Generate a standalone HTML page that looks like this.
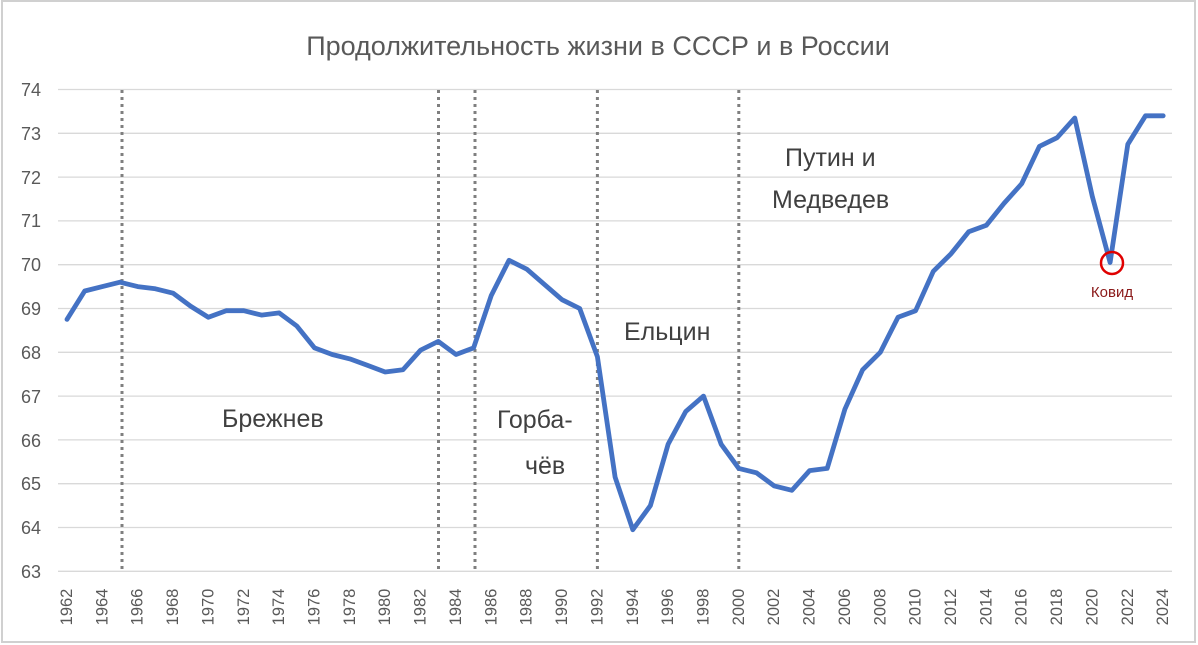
<!DOCTYPE html>
<html><head><meta charset="utf-8"><style>
html,body{margin:0;padding:0;background:#fff;}
svg{display:block;font-family:"Liberation Sans","DejaVu Sans",sans-serif;}
</style></head><body>
<svg id="s" width="1198" height="645" viewBox="0 0 1198 645">
<rect x="2" y="1" width="1193" height="641" fill="#fff" stroke="#d0d0d0" stroke-width="2"/>
<text x="598" y="55" font-size="27" fill="#595959" text-anchor="middle">Продолжительность жизни в СССР и в России</text>
<g id="grid" stroke="#d9d9d9" stroke-width="1.3"></g>
<g font-size="18" fill="#595959" text-anchor="end">
<text x="41" y="96">74</text><text x="41" y="140">73</text><text x="41" y="184">72</text><text x="41" y="227">71</text><text x="41" y="271">70</text><text x="41" y="315">69</text><text x="41" y="359">68</text><text x="41" y="403">67</text><text x="41" y="447">66</text><text x="41" y="490">65</text><text x="41" y="534">64</text><text x="41" y="578">63</text>
</g>
<g stroke="#7f7f7f" stroke-width="3" stroke-dasharray="3,4">
<line x1="122" y1="90" x2="122" y2="572"/><line x1="438.5" y1="90" x2="438.5" y2="572"/><line x1="475" y1="90" x2="475" y2="572"/><line x1="597.4" y1="90" x2="597.4" y2="572"/><line x1="738.8" y1="90" x2="738.8" y2="572"/>
</g>
<polyline id="ln" fill="none" stroke="#4472C4" stroke-width="4.8" stroke-linejoin="round" stroke-linecap="round"/>
<circle cx="1112" cy="263" r="11" fill="none" stroke="#e00000" stroke-width="2.5"/>
<text x="1112" y="297" font-size="15" fill="#8b1a1a" text-anchor="middle">Ковид</text>
<g font-size="25" fill="#404040">
<text x="222" y="427">Брежнев</text>
<text x="497" y="428">Горба-</text>
<text x="525" y="474">чёв</text>
<text x="624" y="340">Ельцин</text>
<text x="785" y="166">Путин и</text>
<text x="772" y="208">Медведев</text>
</g>
<g font-size="16.5" fill="#595959" text-anchor="middle" dominant-baseline="central">
<text transform="translate(67,607) rotate(-90)">1962</text>
<text transform="translate(102.4,607) rotate(-90)">1964</text>
<text transform="translate(137.7,607) rotate(-90)">1966</text>
<text transform="translate(173.1,607) rotate(-90)">1968</text>
<text transform="translate(208.4,607) rotate(-90)">1970</text>
<text transform="translate(243.8,607) rotate(-90)">1972</text>
<text transform="translate(279.2,607) rotate(-90)">1974</text>
<text transform="translate(314.5,607) rotate(-90)">1976</text>
<text transform="translate(349.9,607) rotate(-90)">1978</text>
<text transform="translate(385.2,607) rotate(-90)">1980</text>
<text transform="translate(420.6,607) rotate(-90)">1982</text>
<text transform="translate(456,607) rotate(-90)">1984</text>
<text transform="translate(491.3,607) rotate(-90)">1986</text>
<text transform="translate(526.7,607) rotate(-90)">1988</text>
<text transform="translate(562,607) rotate(-90)">1990</text>
<text transform="translate(597.4,607) rotate(-90)">1992</text>
<text transform="translate(632.8,607) rotate(-90)">1994</text>
<text transform="translate(668.1,607) rotate(-90)">1996</text>
<text transform="translate(703.5,607) rotate(-90)">1998</text>
<text transform="translate(738.8,607) rotate(-90)">2000</text>
<text transform="translate(774.2,607) rotate(-90)">2002</text>
<text transform="translate(809.6,607) rotate(-90)">2004</text>
<text transform="translate(844.9,607) rotate(-90)">2006</text>
<text transform="translate(880.3,607) rotate(-90)">2008</text>
<text transform="translate(915.6,607) rotate(-90)">2010</text>
<text transform="translate(951,607) rotate(-90)">2012</text>
<text transform="translate(986.4,607) rotate(-90)">2014</text>
<text transform="translate(1021.7,607) rotate(-90)">2016</text>
<text transform="translate(1057.1,607) rotate(-90)">2018</text>
<text transform="translate(1092.4,607) rotate(-90)">2020</text>
<text transform="translate(1127.8,607) rotate(-90)">2022</text>
<text transform="translate(1163.2,607) rotate(-90)">2024</text>
</g>
</svg>
<script>
var g=document.getElementById('grid'),ns='http://www.w3.org/2000/svg';
function Y(v){return 89.5+(74-v)*43.8;}
for(var v=63;v<=74;v++){var l=document.createElementNS(ns,'line');l.setAttribute('x1',58);l.setAttribute('x2',1172);l.setAttribute('y1',Y(v));l.setAttribute('y2',Y(v));g.appendChild(l);}
var d=[68.75,69.4,69.5,69.6,69.5,69.45,69.35,69.05,68.8,68.95,68.95,68.85,68.9,68.6,68.1,67.95,67.85,67.7,67.55,67.6,68.05,68.25,67.95,68.1,69.3,70.1,69.9,69.55,69.2,69.0,67.9,65.15,63.95,64.5,65.9,66.65,67.0,65.9,65.35,65.25,64.95,64.85,65.3,65.35,66.7,67.6,68.0,68.8,68.95,69.85,70.25,70.75,70.9,71.4,71.85,72.7,72.9,73.35,71.55,70.05,72.75,73.4,73.4];
var p=d.map(function(v,i){return (67+i*17.68).toFixed(1)+','+Y(v).toFixed(1);}).join(' ');
document.getElementById('ln').setAttribute('points',p);
</script>
</body></html>
